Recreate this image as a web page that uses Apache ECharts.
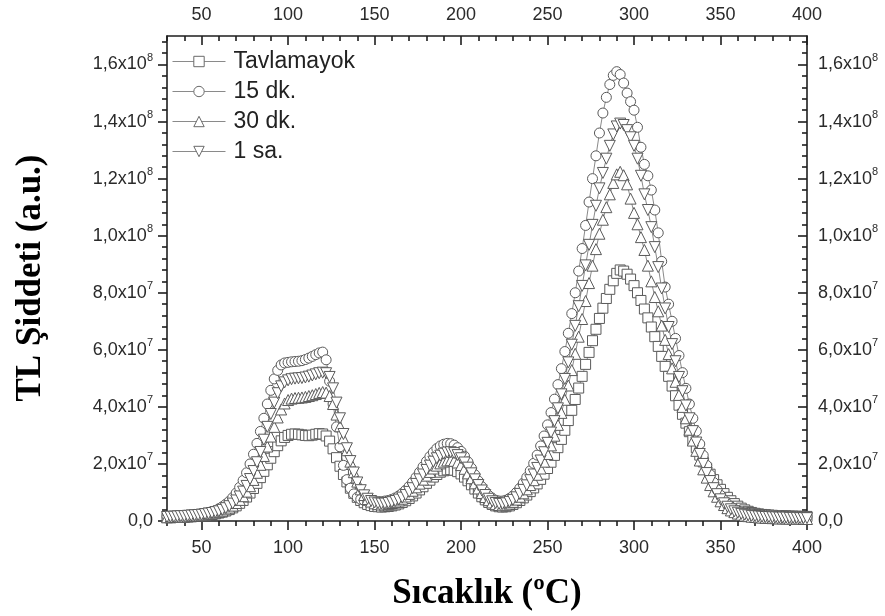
<!DOCTYPE html>
<html>
<head>
<meta charset="utf-8">
<script src="https://cdn.jsdelivr.net/npm/echarts@6/dist/echarts.min.js"></script>
<style>
  html, body { margin: 0; padding: 0; background: #ffffff; }
  #chart { width: 885px; height: 616px; }
</style>
</head>
<body>
<div id="chart"></div>
<script>
// Temperature (°C) of each reading
const TEMPS = [
  30,32,34,36,38,40,42,44,46,48,
  50,52,54,56,58,60,62,64,66,68,
  70,72,74,76,78,80,82,84,86,88,
  90,92,94,96,98,100,102,104,106,108,
  110,112,114,116,118,120,122,124,126,128,
  130,132,134,136,138,140,142,144,146,148,
  150,152,154,156,158,160,162,164,166,168,
  170,172,174,176,178,180,182,184,186,188,
  190,192,194,196,198,200,202,204,206,208,
  210,212,214,216,218,220,222,224,226,228,
  230,232,234,236,238,240,242,244,246,248,
  250,252,254,256,258,260,262,264,266,268,
  270,272,274,276,278,280,282,284,286,288,
  290,292,294,296,298,300,302,304,306,308,
  310,312,314,316,318,320,322,324,326,328,
  330,332,334,336,338,340,342,344,346,348,
  350,352,354,356,358,360,362,364,366,368,
  370,372,374,376,378,380,382,384,386,388,
  390,392,394,396,398,400
];

// TL intensities, in units of 1e6 a.u.
const UNIT = 1e6;

const TAVLAMAYOK = [
  1.2,1.2,1.3,1.3,1.4,1.4,1.5,1.5,1.6,1.7,1.8,1.9,2.1,2.3,2.5,
  2.8,3.1,3.5,4.0,4.6,5.3,6.2,7.2,8.4,9.8,11.4,13.2,15.2,17.4,19.7,22.0,24.3,26.4,28.1,29.3,
  30.0,30.4,30.5,30.4,30.2,30.0,29.9,30.1,30.4,30.6,
  30.5,29.8,28.0,25.3,22.2,19.2,16.3,13.7,11.5,9.7,8.3,7.2,6.4,5.8,5.4,5.1,5.0,4.9,5.0,5.1,
  5.3,5.6,6.0,6.5,7.1,7.9,8.8,9.8,10.9,12.0,13.2,14.3,15.4,16.3,17.1,17.6,17.9,18.0,17.8,17.3,
  16.5,15.4,14.1,12.7,11.2,9.8,8.5,7.4,6.5,5.8,5.3,5.0,4.9,5.0,5.3,5.8,6.4,7.2,8.1,9.1,
  10.3,11.6,13.0,14.6,16.4,18.4,20.6,23.0,25.7,28.6,31.8,35.2,38.8,42.6,46.6,50.7,54.9,59.1,63.2,67.2,
  71.0,74.6,78.0,81.2,84.2,86.8,88.0,87.6,86.5,84.8,82.5,80.0,77.3,74.3,71.2,68.0,64.6,61.2,57.7,54.2,
  50.7,47.3,43.9,40.6,37.4,34.3,31.3,28.4,25.7,23.1,20.7,18.5,16.4,14.5,12.7,11.1,9.6,8.3,7.1,6.1,
  5.2,4.5,3.9,3.4,3.0,2.7,2.5,2.3,2.2,2.1,2.0,1.9,1.9,1.8,1.8,1.7,1.7,1.7,1.6,1.6,1.6
];

const DK15 = [
  1.6,1.7,1.7,1.8,1.9,2.0,2.1,2.2,2.3,2.4,2.6,2.8,3.0,3.3,3.7,
  4.3,5.0,5.9,6.9,8.2,9.8,11.8,14.2,16.9,20.0,23.4,27.2,31.4,36.0,41.0,45.8,49.8,52.8,54.7,55.4,
  55.6,55.8,55.9,56.0,56.2,56.6,57.1,57.7,58.3,58.9,
  59.2,56.5,49.0,41.0,33.0,26.0,19.5,14.5,11.5,9.5,8.3,7.6,7.2,6.9,6.8,6.7,6.7,6.8,7.0,7.2,
  7.6,8.1,8.8,9.7,10.8,12.1,13.6,15.3,17.1,19.0,20.9,22.6,24.1,25.4,26.3,26.9,27.2,27.1,26.6,25.7,
  24.4,22.7,20.7,18.5,16.2,14.0,12.0,10.3,8.9,7.9,7.3,7.0,7.0,7.3,7.9,8.8,10.0,11.5,13.3,15.3,
  17.6,20.2,23.1,26.3,29.8,33.7,38.0,42.7,47.8,53.4,59.4,65.8,72.7,80.0,87.6,95.5,103.6,111.8,120.0,128.0,
  136.0,143.0,148.5,153.0,156.2,157.5,156.5,153.5,150.0,147.0,144.0,138.0,131.0,125.0,121.0,116.0,109.0,101.0,91.0,82.0,
  76.0,70.0,64.0,58.0,52.0,46.5,41.0,36.0,31.5,27.0,23.0,19.5,16.3,13.5,11.0,9.0,7.3,6.0,5.0,4.2,
  3.6,3.2,2.9,2.7,2.5,2.3,2.2,2.1,2.0,1.9,1.9,1.8,1.8,1.7,1.7,1.7,1.6,1.6,1.6,1.5,1.5
];

const DK30 = [
  1.3,1.3,1.4,1.4,1.5,1.5,1.6,1.7,1.8,1.9,2.0,2.2,2.4,2.6,2.9,
  3.2,3.6,4.1,4.7,5.4,6.3,7.4,8.7,10.3,12.2,14.4,16.9,19.7,22.8,26.1,29.6,33.0,36.3,39.1,41.2,
  42.4,42.9,43.1,43.2,43.3,43.5,43.8,44.1,44.5,44.9,
  45.2,45.0,43.8,41.0,37.3,33.2,29.0,24.8,20.8,17.1,13.8,11.1,9.1,7.7,6.8,6.2,5.9,5.8,5.8,6.0,
  6.3,6.7,7.2,7.8,8.6,9.5,10.6,11.8,13.1,14.5,15.9,17.2,18.4,19.4,20.2,20.8,21.2,21.3,21.1,20.5,
  19.6,18.3,16.7,15.0,13.2,11.4,9.8,8.4,7.3,6.5,5.9,5.6,5.5,5.7,6.1,6.7,7.5,8.5,9.7,11.1,
  12.6,14.3,16.2,18.4,20.8,23.5,26.5,29.9,33.7,37.9,42.5,47.5,52.9,58.6,64.6,70.8,77.1,83.4,89.5,95.3,
  100.7,105.6,110.0,114.5,118.5,121.5,122.4,121.2,118.0,113.0,108.0,104.0,99.5,95.0,89.5,84.0,78.5,73.5,68.5,63.5,
  58.5,53.5,48.8,44.2,40.0,36.0,32.0,28.2,24.6,21.2,18.1,15.2,12.6,10.4,8.5,6.9,5.6,4.5,3.7,3.1,
  2.6,2.2,1.9,1.7,1.5,1.4,1.3,1.2,1.1,1.1,1.0,1.0,0.9,0.9,0.9,0.8,0.8,0.8,0.8,0.7,0.7
];

const SA1 = [
  1.4,1.5,1.5,1.6,1.7,1.7,1.8,1.9,2.0,2.1,2.2,2.4,2.6,2.8,3.1,
  3.4,3.9,4.5,5.2,6.1,7.2,8.6,10.3,12.3,14.7,17.5,20.6,24.2,28.5,33.0,37.5,41.5,44.8,47.2,48.6,
  49.3,49.7,49.9,50.0,50.1,50.3,50.6,51.0,51.4,51.8,
  52.0,51.8,50.5,46.5,41.5,36.0,30.5,25.5,21.0,17.0,13.5,10.8,9.0,7.8,7.0,6.5,6.2,6.1,6.1,6.3,
  6.6,7.0,7.5,8.2,9.1,10.2,11.5,13.0,14.6,16.3,17.9,19.4,20.8,22.0,22.9,23.6,24.0,24.1,23.8,23.1,
  22.0,20.5,18.7,16.7,14.6,12.6,10.7,9.1,7.8,6.9,6.3,6.0,6.0,6.2,6.7,7.4,8.3,9.5,10.9,12.5,
  14.3,16.3,18.6,21.2,24.1,27.4,31.0,35.0,39.5,44.4,49.8,55.6,61.8,68.4,75.3,82.4,89.6,96.8,103.8,110.5,
  116.6,122.0,127.0,131.5,135.5,138.3,139.3,138.8,137.0,134.5,131.5,127.0,121.0,114.5,109.0,103.0,96.0,89.0,81.5,74.5,
  68.0,62.0,56.0,50.5,45.5,40.5,36.0,31.5,27.5,23.5,20.0,16.8,14.0,11.5,9.4,7.6,6.2,5.0,4.1,3.4,
  2.9,2.5,2.2,2.0,1.8,1.7,1.6,1.5,1.4,1.4,1.3,1.3,1.2,1.2,1.2,1.1,1.1,1.1,1.0,1.0,1.0
];

const SERIES_NAMES = ['Tavlamayok', '15 dk.', '30 dk.', '1 sa.'];

// Tick positions
const X_MAJOR = [50, 100, 150, 200, 250, 300, 350, 400];
const X_MINOR = [30, 40, 60, 70, 80, 90, 110, 120, 130, 140, 160, 170, 180, 190,
  210, 220, 230, 240, 260, 270, 280, 290, 310, 320, 330, 340, 360, 370, 380, 390];
const Y_MAJOR = [0, 2e7, 4e7, 6e7, 8e7, 1e8, 1.2e8, 1.4e8, 1.6e8];
const Y_MINOR = [4e6, 8e6, 1.2e7, 1.6e7, 2.4e7, 2.8e7, 3.2e7, 3.6e7, 4.4e7, 4.8e7, 5.2e7, 5.6e7,
  6.4e7, 6.8e7, 7.2e7, 7.6e7, 8.4e7, 8.8e7, 9.2e7, 9.6e7, 1.04e8, 1.08e8, 1.12e8, 1.16e8,
  1.24e8, 1.28e8, 1.32e8, 1.36e8, 1.44e8, 1.48e8, 1.52e8, 1.56e8, 1.64e8, 1.68e8];

const X_MIN = 30, X_MAX = 400, Y_MIN = 0, Y_MAX = 1.7e8;

const SANS = '"Liberation Sans", Arial, sans-serif';
const SERIF = '"Liberation Serif", "Times New Roman", serif';
const AXIS_COLOR = '#1e1e1e';
const LABEL_COLOR = '#2a2a2a';

function pairs(values) {
  return TEMPS.map((t, i) => [t, values[i] * UNIT]);
}

// "1,6x10^8" style labels with a raised exponent
function sciLabel(v) {
  if (v === 0) return '{m|0,0}';
  const e = Math.floor(Math.log10(v) + 1e-9);
  const m = (v / Math.pow(10, e)).toFixed(1).replace('.', ',');
  return '{m|' + m + 'x10}{e|' + e + '}';
}
const sciRich = {
  m: { fontFamily: SANS, fontSize: 18, color: LABEL_COLOR, lineHeight: 24, verticalAlign: 'middle' },
  e: { fontFamily: SANS, fontSize: 11, color: LABEL_COLOR, lineHeight: 12, verticalAlign: 'top' }
};

function xAxisDef(pos, values, len, inside, withLabels, margin) {
  return {
    type: 'value', min: X_MIN, max: X_MAX, position: pos,
    axisLine: { show: withLabels, onZero: false, lineStyle: { color: AXIS_COLOR, width: 1.6 } },
    axisTick: { show: true, inside: inside, length: len, customValues: values,
      lineStyle: { color: AXIS_COLOR, width: 1.6 } },
    axisLabel: withLabels ? { show: true, customValues: values, margin: margin,
      fontFamily: SANS, fontSize: 18, color: LABEL_COLOR } : { show: false },
    splitLine: { show: false }
  };
}

function yAxisDef(pos, values, len, inside, withLabels, margin) {
  return {
    type: 'value', min: Y_MIN, max: Y_MAX, position: pos,
    axisLine: { show: withLabels, onZero: false, lineStyle: { color: AXIS_COLOR, width: 1.6 } },
    axisTick: { show: true, inside: inside, length: len, customValues: values,
      lineStyle: { color: AXIS_COLOR, width: 1.6 } },
    axisLabel: withLabels ? { show: true, customValues: values, margin: margin,
      formatter: sciLabel, rich: sciRich } : { show: false },
    splitLine: { show: false }
  };
}

const markerStyle = { color: '#ffffff', borderColor: '#5a5a5a', borderWidth: 1 };
const lineStyle = { color: '#8a8a8a', width: 1 };

function glowSeries(name, values, symbol, rotate) {
  return {
    type: 'line', name: name, data: pairs(values),
    xAxisIndex: 0, yAxisIndex: 0,
    symbol: symbol, symbolSize: symbol === 'triangle' ? 11 : 10, symbolRotate: rotate,
    showSymbol: true, showAllSymbol: true,
    lineStyle: lineStyle, itemStyle: markerStyle,
    emphasis: { disabled: true }, silent: true
  };
}

const chart = echarts.init(document.getElementById('chart'), null, { renderer: 'canvas' });

chart.setOption({
  animation: false,
  backgroundColor: '#ffffff',
  grid: { left: 167, top: 36, width: 640, height: 485, containLabel: false },
  xAxis: [
    xAxisDef('bottom', X_MAJOR, 9, false, true, 18),
    xAxisDef('bottom', X_MINOR, 5, false, false, 0),
    xAxisDef('top', X_MAJOR, 9, true, true, 12),
    xAxisDef('top', X_MINOR, 5, true, false, 0)
  ],
  yAxis: [
    yAxisDef('left', Y_MAJOR, 9, false, true, 14),
    yAxisDef('left', Y_MINOR, 5, false, false, 0),
    yAxisDef('right', Y_MAJOR, 9, true, true, 11),
    yAxisDef('right', Y_MINOR, 5, true, false, 0)
  ],
  legend: {
    orient: 'vertical', left: 172, top: 50, padding: 0,
    itemWidth: 53, itemHeight: 13, itemGap: 7,
    selectedMode: false,
    data: SERIES_NAMES,
    itemStyle: { color: '#ffffff', borderColor: '#6a6a6a', borderWidth: 1 },
    lineStyle: { color: '#8a8a8a', width: 1 },
    textStyle: { fontFamily: SANS, fontSize: 23, lineHeight: 23, color: '#222222', padding: [0, 0, 0, 3] }
  },
  graphic: [
    {
      type: 'text', x: 31, y: 278, rotation: Math.PI / 2,
      style: { text: 'TL Şiddeti (a.u.)', font: 'bold 35px ' + SERIF, fill: '#000000',
        align: 'center', verticalAlign: 'middle' }
    },
    {
      type: 'text', x: 487, y: 594,
      style: { text: 'Sıcaklık (ºC)', font: 'bold 35px ' + SERIF, fill: '#000000',
        align: 'center', verticalAlign: 'middle' }
    }
  ],
  series: [
    glowSeries(SERIES_NAMES[0], TAVLAMAYOK, 'rect', 0),
    glowSeries(SERIES_NAMES[1], DK15, 'circle', 0),
    glowSeries(SERIES_NAMES[2], DK30, 'triangle', 0),
    glowSeries(SERIES_NAMES[3], SA1, 'triangle', 180)
  ]
});
</script>
</body>
</html>
